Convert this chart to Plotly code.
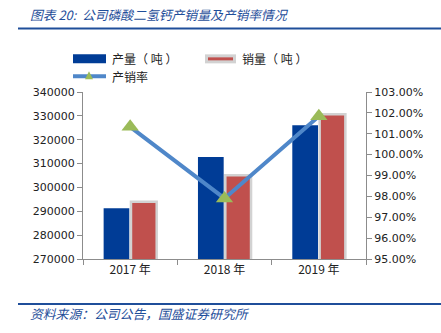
import plotly.graph_objects as go

# Calcium dihydrogen phosphate: output, sales and sales-to-output ratio
years = ["2017 年", "2018 年", "2019 年"]
output_t = [291300, 312800, 326100]
sales_t = [294000, 305100, 330700]
sell_rate = [1.0133, 0.979, 1.0184]

W, H = 441, 333
L, R, T, B = 83, 366, 91.7, 259.0

def px(x):
    return (x - L) / (R - L)

def py(y):
    return (B - y) / (B - T)

CJK = "Noto Sans CJK SC"
NUM = "DejaVu Sans"
BLUE = "#003C96"
RED = "#C0504D"
LINE = "#4F87C9"
GREEN = "#9BBB59"
AX = "#8C8C8C"
TITLE_BLUE = "#1F4E9A"

fig = go.Figure()
fig.add_trace(go.Bar(x=years, y=output_t, name="产量（吨）", marker=dict(color=BLUE, line=dict(width=0)),
                     showlegend=False))
fig.add_trace(go.Bar(x=years, y=sales_t, name="销量（吨）",
                     marker=dict(color=RED, line=dict(color="#D2D2D2", width=2.5)), showlegend=False))
fig.add_trace(go.Scatter(x=years, y=sell_rate, name="产销率", yaxis="y2", mode="lines+markers",
                         line=dict(color=LINE, width=4),
                         marker=dict(symbol="triangle-up", size=15, color=GREEN), showlegend=False))

fig.update_layout(
    width=W, height=H,
    margin=dict(l=L, r=W - R, t=T, b=H - B, pad=0),
    paper_bgcolor="white", plot_bgcolor="white",
    barmode="group", bargap=0.42, bargroupgap=0.06,
    font=dict(family=NUM, size=11, color="#222222"),
    xaxis=dict(showline=True, linecolor=AX, linewidth=1, ticks="outside", tickson="boundaries",
               ticklen=5, tickcolor=AX, tickfont=dict(family=CJK, size=12, color="#222222"),
               showgrid=False, zeroline=False),
    yaxis=dict(range=[270000, 340000], dtick=10000, tickformat="d", showline=True, linecolor=AX,
               ticks="outside", ticklen=5, tickcolor=AX, showgrid=False, zeroline=False,
               tickfont=dict(size=11, color="#222222")),
    yaxis2=dict(range=[0.95, 1.03], dtick=0.01, tickformat=".2%", overlaying="y", side="right",
                showline=True, linecolor=AX, ticks="outside", ticklen=5, tickcolor=AX,
                showgrid=False, zeroline=False, tickfont=dict(size=11, color="#222222")),
)

shapes = []
annotations = []

# title and rules
annotations.append(dict(xref="paper", yref="paper", x=px(28), y=py(14), xanchor="left", yanchor="middle",
                        text="<i>图表 20:  公司磷酸二氢钙产销量及产销率情况</i>", showarrow=False,
                        font=dict(family=CJK, size=12.8, color=TITLE_BLUE)))
shapes.append(dict(type="line", xref="paper", yref="paper", x0=px(18), x1=px(441), y0=py(28), y1=py(28),
                   line=dict(color=TITLE_BLUE, width=2)))
shapes.append(dict(type="line", xref="paper", yref="paper", x0=px(18), x1=px(441), y0=py(304), y1=py(304),
                   line=dict(color=TITLE_BLUE, width=2)))
annotations.append(dict(xref="paper", yref="paper", x=px(28), y=py(314), xanchor="left", yanchor="middle",
                        text="<i>资料来源：公司公告，国盛证券研究所</i>", showarrow=False,
                        font=dict(family=CJK, size=12.8, color=TITLE_BLUE)))

# legend
shapes.append(dict(type="rect", xref="paper", yref="paper", x0=px(73), x1=px(106), y0=py(54), y1=py(63),
                   fillcolor=BLUE, line=dict(width=0)))
shapes.append(dict(type="rect", xref="paper", yref="paper", x0=px(205), x1=px(236), y0=py(54), y1=py(63),
                   fillcolor="#D2D2D2", line=dict(width=0)))
shapes.append(dict(type="rect", xref="paper", yref="paper", x0=px(208), x1=px(233), y0=py(57), y1=py(60),
                   fillcolor=RED, line=dict(width=0)))
shapes.append(dict(type="line", xref="paper", yref="paper", x0=px(73), x1=px(106), y0=py(76), y1=py(76),
                   line=dict(color=LINE, width=4)))
shapes.append(dict(type="path", xref="paper", yref="paper",
                   path=f"M {px(85)} {py(79)} L {px(93)} {py(79)} L {px(89)} {py(71)} Z",
                   fillcolor=GREEN, line=dict(width=0)))
for x, y, t in [(110, 58.5, "产量（ 吨 ）"), (240, 58.5, "销量（ 吨 ）"), (110, 76, "产销率")]:
    annotations.append(dict(xref="paper", yref="paper", x=px(x), y=py(y), xanchor="left", yanchor="middle",
                            text=t, showarrow=False, font=dict(family=CJK, size=12, color="#222222")))

fig.update_layout(shapes=shapes, annotations=annotations)
fig.write_html("out.html")
